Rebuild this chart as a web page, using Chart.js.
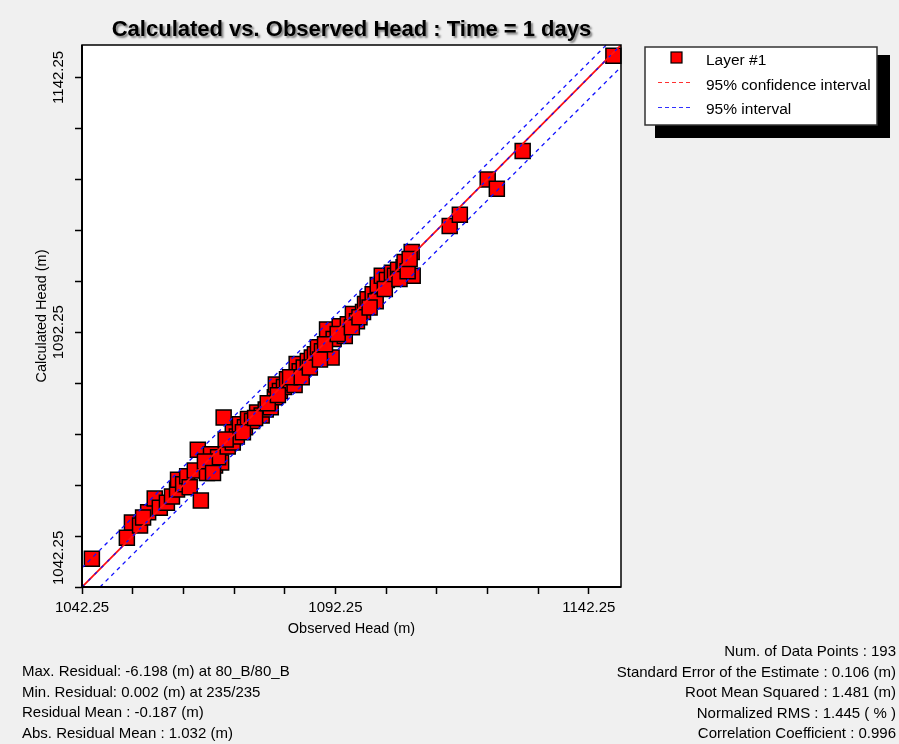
<!DOCTYPE html>
<html>
<head>
<meta charset="utf-8">
<script src="https://cdn.jsdelivr.net/npm/chart.js@4.4.0/dist/chart.umd.min.js"></script>
<style>
html, body { margin: 0; padding: 0; background: #f0f0f0; }
#wrap { position: relative; width: 899px; height: 744px; }
</style>
</head>
<body>
<div id="wrap"><canvas id="chart" width="899" height="744"></canvas></div>
<script>
// Calculated vs. Observed Head

const observedHead = [
    1044.2, 1051.1, 1052.1, 1053.7, 1055.3, 1054.3, 1056.6, 1057.6, 1059.0, 1060.0,
    1061.0, 1061.2, 1062.2, 1063.0, 1063.5, 1064.5, 1065.1, 1065.7, 1066.9, 1067.7,
    1068.5, 1069.7, 1069.1, 1070.2, 1071.0, 1072.0, 1072.0, 1072.8, 1073.4, 1074.4,
    1075.0, 1075.8, 1076.8, 1077.7, 1078.5, 1079.5, 1080.3, 1080.5, 1081.3, 1082.1,
    1082.7, 1083.5, 1084.2, 1084.6, 1085.2, 1086.0, 1086.8, 1087.6, 1088.2, 1088.8,
    1089.6, 1090.6, 1091.5, 1091.9, 1093.1, 1094.1, 1094.7, 1095.7, 1096.5, 1097.7,
    1098.1, 1098.6, 1099.6, 1100.2, 1100.6, 1101.4, 1102.4, 1103.4, 1104.0, 1104.6,
    1105.7, 1105.9, 1107.3, 1107.5, 1114.8, 1116.8, 1122.3, 1124.1, 1129.2, 1147.1,
    1066.5, 1068.1, 1070.6, 1074.0, 1076.4, 1078.9, 1080.9, 1083.3, 1085.6, 1087.2,
    1089.2, 1090.2, 1092.7, 1095.5, 1097.0, 1099.0, 1102.0, 1104.9, 1106.5, 1106.9
];
const calculatedHead = [
    1047.8, 1051.9, 1054.9, 1054.3, 1056.9, 1055.9, 1059.6, 1057.8, 1058.8, 1060.0,
    1061.4, 1063.3, 1062.4, 1064.0, 1061.8, 1065.1, 1069.2, 1059.2, 1064.6, 1068.3,
    1066.1, 1066.7, 1067.7, 1075.5, 1069.8, 1070.6, 1072.6, 1071.8, 1074.2, 1073.6,
    1075.2, 1074.8, 1076.5, 1075.9, 1077.1, 1077.5, 1079.5, 1082.0, 1080.7, 1081.5,
    1083.0, 1082.3, 1081.9, 1086.0, 1084.6, 1085.3, 1086.6, 1087.3, 1087.9, 1089.3,
    1088.5, 1092.8, 1087.3, 1090.9, 1093.4, 1091.5, 1093.8, 1095.8, 1094.4, 1096.2,
    1097.8, 1098.7, 1099.7, 1098.3, 1101.5, 1103.3, 1102.5, 1103.9, 1103.3, 1104.5,
    1105.0, 1106.0, 1108.0, 1103.3, 1113.1, 1115.3, 1122.2, 1120.4, 1127.8, 1146.5,
    1066.9, 1064.6, 1071.2, 1072.6, 1075.4, 1078.3, 1079.9, 1083.4, 1083.4, 1085.3,
    1086.9, 1089.9, 1091.9, 1093.2, 1095.2, 1097.1, 1100.7, 1102.7, 1104.2, 1106.6
];

// reference lines, end points
const axisMin = 1042.25;
const axisMax = 1148.6;
const lineX = [1042.25, 1148.6];
const lineY = [1042.25, 1148.6];
const upperX = [1042.25, 1145.9];
const upperY = [1046.0, 1148.8];
const lowerX = [1045.8, 1148.6];
const lowerY = [1042.25, 1144.3];

const tickValues = [1042.25, 1052.25, 1062.25, 1072.25, 1082.25, 1092.25, 1102.25, 1112.25, 1122.25, 1132.25, 1142.25];
const tickLabels = ['1042.25', '1092.25', '1142.25'];

const titleText = 'Calculated vs. Observed Head : Time = 1 days';
const xTitle = 'Observed Head (m)';
const yTitle = 'Calculated Head (m)';
const legendLabels = ['Layer #1', '95% confidence interval', '95% interval'];

const statsLeft = [
    'Max. Residual: -6.198 (m) at 80_B/80_B',
    'Min. Residual: 0.002 (m) at 235/235',
    'Residual Mean : -0.187 (m)',
    'Abs. Residual Mean : 1.032 (m)'
];
const statsRight = [
    'Num. of Data Points : 193',
    'Standard Error of the Estimate : 0.106 (m)',
    'Root Mean Squared : 1.481 (m)',
    'Normalized RMS : 1.445 ( % )',
    'Correlation Coefficient : 0.996'
];

const FONT = '"Liberation Sans", Arial, sans-serif';

function pairs(xs, ys) {
    return xs.map((x, i) => ({ x: x, y: ys[i] }));
}

// draws the frame, title, legend box, rotated y labels and the stats block
const decorations = {
    id: 'decorations',
    beforeDraw(chart) {
        const { ctx, chartArea: a } = chart;
        ctx.save();
        ctx.fillStyle = '#f0f0f0';
        ctx.fillRect(0, 0, chart.width, chart.height);
        ctx.fillStyle = '#ffffff';
        ctx.fillRect(a.left, a.top, a.right - a.left, a.bottom - a.top);
        ctx.restore();
    },
    afterDraw(chart) {
        const { ctx, chartArea: a } = chart;
        const yScale = chart.scales.y;
        ctx.save();

        // plot frame
        ctx.strokeStyle = '#000';
        ctx.lineWidth = 1.5;
        ctx.strokeRect(a.left, a.top, a.right - a.left, a.bottom - a.top);
        ctx.lineWidth = 2;
        ctx.beginPath();
        ctx.moveTo(a.left, a.top);
        ctx.lineTo(a.left, a.bottom);
        ctx.lineTo(a.right, a.bottom);
        ctx.stroke();

        // title with soft shadow
        ctx.save();
        ctx.font = 'bold 22px ' + FONT;
        ctx.fillStyle = '#000';
        ctx.textAlign = 'center';
        ctx.textBaseline = 'middle';
        ctx.shadowColor = 'rgba(0,0,0,0.45)';
        ctx.shadowOffsetX = 2;
        ctx.shadowOffsetY = 2;
        ctx.shadowBlur = 2;
        ctx.fillText(titleText, (a.left + a.right) / 2, 30);
        ctx.restore();

        // axis titles
        ctx.font = '14.5px ' + FONT;
        ctx.fillStyle = '#000';
        ctx.textAlign = 'center';
        ctx.textBaseline = 'middle';
        ctx.fillText(xTitle, (a.left + a.right) / 2, 629);
        ctx.save();
        ctx.translate(42, (a.top + a.bottom) / 2);
        ctx.rotate(-Math.PI / 2);
        ctx.fillText(yTitle, 0, 0);
        ctx.restore();

        // rotated y tick labels, kept inside the axis length
        ctx.font = '15px ' + FONT;
        tickLabels.forEach(t => {
            const w = ctx.measureText(t).width;
            let cy = yScale.getPixelForValue(parseFloat(t));
            if (cy + w / 2 > a.bottom - 2) cy = a.bottom - 2 - w / 2;
            ctx.save();
            ctx.translate(59, cy);
            ctx.rotate(-Math.PI / 2);
            ctx.fillText(t, 0, 0);
            ctx.restore();
        });

        // legend box with shadow
        ctx.fillStyle = '#000';
        ctx.fillRect(655, 55, 235, 83);
        ctx.fillStyle = '#fff';
        ctx.fillRect(645, 47, 232, 78);
        ctx.strokeStyle = '#333';
        ctx.lineWidth = 1.5;
        ctx.strokeRect(645, 47, 232, 78);

        ctx.fillStyle = '#ff0000';
        ctx.fillRect(671, 52, 11, 11);
        ctx.strokeStyle = '#000';
        ctx.lineWidth = 1.2;
        ctx.strokeRect(671, 52, 11, 11);

        ctx.lineWidth = 1;
        ctx.setLineDash([4, 3]);
        ctx.strokeStyle = '#ff3030';
        ctx.beginPath();
        ctx.moveTo(658, 82.5);
        ctx.lineTo(691, 82.5);
        ctx.stroke();
        ctx.strokeStyle = '#3030ff';
        ctx.beginPath();
        ctx.moveTo(658, 107.5);
        ctx.lineTo(691, 107.5);
        ctx.stroke();
        ctx.setLineDash([]);

        ctx.fillStyle = '#000';
        ctx.textAlign = 'left';
        ctx.font = '15.5px ' + FONT;
        ctx.fillText(legendLabels[0], 706, 61);
        ctx.fillText(legendLabels[1], 706, 86);
        ctx.fillText(legendLabels[2], 706, 110);

        // statistics
        ctx.font = '15px ' + FONT;
        statsLeft.forEach((s, i) => ctx.fillText(s, 22, 672 + i * 20.5));
        ctx.textAlign = 'right';
        statsRight.forEach((s, i) => ctx.fillText(s, 896, 652 + i * 20.5));

        ctx.restore();
    }
};

const chart = new Chart(document.getElementById('chart'), {
    type: 'scatter',
    data: {
        datasets: [
            {
                label: legendLabels[0],
                data: pairs(observedHead, calculatedHead),
                pointStyle: 'rect',
                pointRadius: 10.6,
                backgroundColor: '#ff0000',
                borderColor: '#000',
                borderWidth: 1.5,
                clip: false,
                order: 2
            },
            {
                label: legendLabels[1],
                type: 'line',
                data: pairs(lineX, lineY),
                borderColor: '#ff1010',
                borderWidth: 1.8,
                pointRadius: 0,
                order: 1
            },
            {
                label: '1:1',
                type: 'line',
                data: pairs(lineX, lineY),
                borderColor: '#1010ff',
                borderWidth: 1.3,
                borderDash: [3, 6],
                pointRadius: 0,
                order: 0
            },
            {
                label: legendLabels[2],
                type: 'line',
                data: pairs(upperX, upperY),
                borderColor: '#1010ff',
                borderWidth: 1.3,
                borderDash: [4, 4],
                pointRadius: 0,
                order: 0
            },
            {
                label: legendLabels[2] + ' low',
                type: 'line',
                data: pairs(lowerX, lowerY),
                borderColor: '#1010ff',
                borderWidth: 1.3,
                borderDash: [4, 4],
                pointRadius: 0,
                order: 0
            }
        ]
    },
    options: {
        responsive: false,
        animation: false,
        layout: { padding: { left: 0, top: 45, right: 278, bottom: 0 } },
        plugins: {
            legend: { display: false },
            tooltip: { enabled: false },
            title: { display: false }
        },
        scales: {
            x: {
                type: 'linear',
                min: axisMin,
                max: axisMax,
                afterBuildTicks: s => { s.ticks = tickValues.map(v => ({ value: v })); },
                afterFit: s => { s.height = 157; },
                border: { display: false },
                grid: { drawOnChartArea: false, drawTicks: true, tickLength: 7, color: '#000', tickWidth: 1.5 },
                ticks: {
                    color: '#000',
                    font: { family: FONT, size: 15 },
                    padding: 5,
                    maxRotation: 0,
                    autoSkip: false,
                    callback: v => tickLabels.includes(v.toFixed(2)) ? v.toFixed(2) : ''
                }
            },
            y: {
                type: 'linear',
                min: axisMin,
                max: axisMax,
                afterBuildTicks: s => { s.ticks = tickValues.map(v => ({ value: v })); },
                afterFit: s => { s.width = 82; },
                border: { display: false },
                grid: { drawOnChartArea: false, drawTicks: true, tickLength: 7, color: '#000', tickWidth: 1.5 },
                ticks: { display: false }
            }
        }
    },
    plugins: [decorations]
});
</script>
</body>
</html>
